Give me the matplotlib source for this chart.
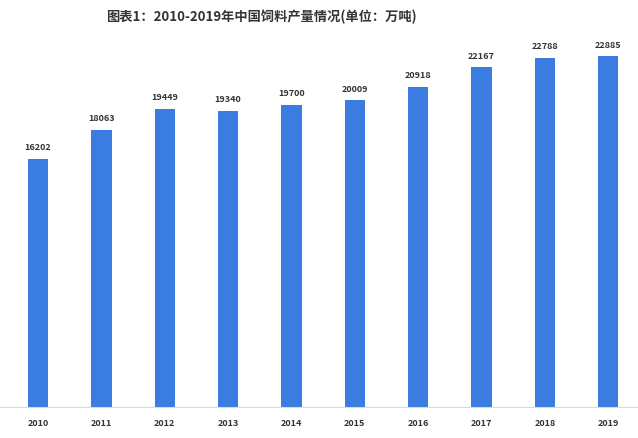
import matplotlib.pyplot as plt

plt.rcParams['font.family'] = ['Noto Sans CJK SC', 'DejaVu Sans']

years = ['2010', '2011', '2012', '2013', '2014', '2015', '2016', '2017', '2018', '2019']
output = [16202, 18063, 19449, 19340, 19700, 20009, 20918, 22167, 22788, 22885]

fig = plt.figure(figsize=(6.38, 4.38), dpi=100)
ax = fig.add_axes([0, 31 / 438, 1, 383 / 438])

x = range(len(years))
bars = ax.bar(x, output, width=0.32, color='#3a7ce0')
for xi, v in zip(x, output):
    ax.text(xi, v + 450, str(v), ha='center', va='bottom', fontsize=6.5,
            fontweight='bold', color='#333333')

ax.set_xlim(-0.6, 9.47)
ax.set_ylim(0, 25000)
ax.set_xticks(list(x))
ax.set_xticklabels(years, fontsize=6.5, fontweight='bold', color='#333333')
ax.tick_params(axis='x', length=0, pad=9)
ax.set_yticks([])
for s in ['top', 'left', 'right']:
    ax.spines[s].set_visible(False)
ax.spines['bottom'].set_color('#d9d9d9')

fig.text(0.41, 1 - 17 / 438, '图表1：2010-2019年中国饲料产量情况(单位：万吨)',
         ha='center', va='center', fontsize=9.5, fontweight='bold', color='#333333')

fig.savefig('out.png', dpi=100)
